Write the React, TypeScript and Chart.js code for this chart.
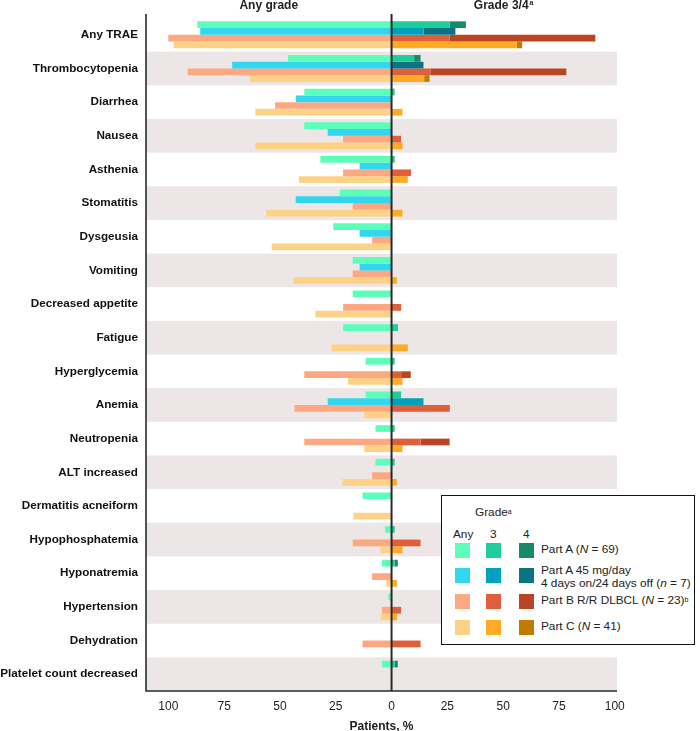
import React, { useEffect, useRef } from "react";
import { Chart, registerables } from "chart.js";

Chart.register(...registerables);

const categories = [
  "Any TRAE", "Thrombocytopenia", "Diarrhea", "Nausea", "Asthenia", "Stomatitis",
  "Dysgeusia", "Vomiting", "Decreased appetite", "Fatigue", "Hyperglycemia", "Anemia",
  "Neutropenia", "ALT increased", "Dermatitis acneiform", "Hypophosphatemia",
  "Hyponatremia", "Hypertension", "Dehydration", "Platelet count decreased",
];

const partAAny = [87.0, 46.4, 39.1, 39.1, 31.9, 23.2, 26.1, 17.4, 17.4, 21.7, 11.6, 11.6, 7.2, 7.2, 13.0, 2.9, 4.3, 1.4, 0, 4.3];
const partAG3 = [26.1, 10.1, 1.4, 0, 1.4, 0, 0, 0, 0, 2.9, 1.4, 4.3, 1.4, 1.4, 0, 1.4, 1.4, 0, 0, 1.4];
const partAG4 = [7.2, 2.9, 0, 0, 0, 0, 0, 0, 0, 0, 0, 0, 0, 0, 0, 0, 1.4, 0, 0, 1.4];

const partA45Any = [85.7, 71.4, 42.9, 28.6, 14.3, 42.9, 14.3, 14.3, 0, 0, 0, 28.6, 0, 0, 0, 0, 0, 0, 0, 0];
const partA45G3 = [14.3, 0, 0, 0, 0, 0, 0, 0, 0, 0, 0, 14.3, 0, 0, 0, 0, 0, 0, 0, 0];
const partA45G4 = [14.3, 14.3, 0, 0, 0, 0, 0, 0, 0, 0, 0, 0, 0, 0, 0, 0, 0, 0, 0, 0];

const partBAny = [100, 91.3, 52.2, 21.7, 21.7, 17.4, 8.7, 17.4, 21.7, 0, 39.1, 43.5, 39.1, 8.7, 0, 17.4, 8.7, 4.3, 13.0, 0];
const partBG3 = [26.1, 17.4, 0, 4.3, 8.7, 0, 0, 0, 4.3, 0, 4.3, 26.1, 13.0, 0, 0, 13.0, 0, 4.3, 13.0, 0];
const partBG4 = [65.2, 60.9, 0, 0, 0, 0, 0, 0, 0, 0, 4.3, 0, 13.0, 0, 0, 0, 0, 0, 0, 0];

const partCAny = [97.6, 63.4, 61.0, 61.0, 41.5, 56.1, 53.7, 43.9, 34.1, 26.8, 19.5, 12.2, 12.2, 22.0, 17.1, 4.9, 2.4, 4.9, 0, 0];
const partCG3 = [56.1, 14.6, 4.9, 4.9, 7.3, 4.9, 0, 2.4, 0, 7.3, 4.9, 0, 4.9, 2.4, 0, 4.9, 2.4, 2.4, 0, 0];
const partCG4 = [2.4, 2.4, 0, 0, 0, 0, 0, 0, 0, 0, 0, 0, 0, 0, 0, 0, 0, 0, 0, 0];

const xTickValues = [-100, -75, -50, -25, 0, 25, 50, 75, 100];

const FONT = '"Liberation Sans", Arial, Helvetica, sans-serif';

const groups = [
  { key: "A", any: partAAny, g3: partAG3, g4: partAG4, colors: ["#5CFFB9", "#1DCD9B", "#168A69"] },
  { key: "A45", any: partA45Any, g3: partA45G3, g4: partA45G4, colors: ["#33D6EF", "#00A1BC", "#0C7384"] },
  { key: "B", any: partBAny, g3: partBG3, g4: partBG4, colors: ["#FDA880", "#E05F3B", "#BB4425"] },
  { key: "C", any: partCAny, g3: partCG3, g4: partCG4, colors: ["#FED286", "#FEAA25", "#C17B03"] },
];

const legendRows = [
  { colors: groups[0].colors, lines: [["Part A (", ["N"], " = 69)"]] },
  { colors: groups[1].colors, lines: [["Part A 45 mg/day"], ["4 days on/24 days off (", ["n"], " = 7)"]] },
  { colors: groups[2].colors, lines: [["Part B R/R DLBCL (", ["N"], " = 23)", ["b", "sup"]]] },
  { colors: groups[3].colors, lines: [["Part C (", ["N"], " = 41)"]] },
];

const bandsPlugin = {
  id: "bands",
  beforeDatasetsDraw(chart: any) {
    const { ctx, chartArea, scales } = chart;
    const y = scales.y;
    const h = (chartArea.bottom - chartArea.top) / categories.length;
    ctx.save();
    ctx.fillStyle = "#ECE6E6";
    categories.forEach((_, i) => {
      if (i % 2 === 1) {
        const c = y.getPixelForValue(i);
        ctx.fillRect(chartArea.left, c - h / 2, chartArea.right - chartArea.left, h);
      }
    });
    ctx.restore();
  },
  afterDatasetsDraw(chart: any) {
    const { ctx, chartArea, scales } = chart;
    const x0 = scales.x.getPixelForValue(0);
    ctx.save();
    ctx.strokeStyle = "#2a2a2a";
    ctx.lineWidth = 2;
    ctx.beginPath();
    ctx.moveTo(x0, chartArea.top - 4);
    ctx.lineTo(x0, chartArea.bottom);
    ctx.stroke();
    ctx.lineWidth = 1.6;
    ctx.beginPath();
    ctx.moveTo(chartArea.left, chartArea.top - 4);
    ctx.lineTo(chartArea.left, chartArea.bottom);
    ctx.lineTo(chartArea.right, chartArea.bottom);
    ctx.stroke();
    // headers
    ctx.fillStyle = "#222";
    ctx.font = `bold 12px ${FONT}`;
    ctx.textAlign = "center";
    ctx.textBaseline = "middle";
    ctx.fillText("Any grade", scales.x.getPixelForValue(-55), 6);
    const gx = scales.x.getPixelForValue(50);
    const t = "Grade 3/4";
    const w = ctx.measureText(t).width;
    ctx.font = `bold 7px ${FONT}`;
    const wa = ctx.measureText("a").width;
    ctx.font = `bold 12px ${FONT}`;
    ctx.textAlign = "left";
    const sx = gx - (w + wa) / 2;
    ctx.fillText(t, sx, 6);
    ctx.font = `bold 7px ${FONT}`;
    ctx.fillText("a", sx + w + 1, 3);
    ctx.restore();
  },
};

function LegendText({ parts }: { parts: any[] }) {
  return (
    <span>
      {parts.map((p, i) => {
        if (typeof p === "string") return <span key={i}>{p}</span>;
        if (p[1] === "sup") return <sup key={i} style={{ fontSize: 7, verticalAlign: "top", position: "relative", top: -1 }}>{p[0]}</sup>;
        return <i key={i}>{p[0]}</i>;
      })}
    </span>
  );
}

export default function App() {
  const canvasRef = useRef<HTMLCanvasElement | null>(null);

  useEffect(() => {
    document.body.style.margin = "0";
    const datasets: any[] = [];
    groups.forEach((g) => {
      datasets.push({ label: g.key + " any", data: g.any.map((v) => -v), backgroundColor: g.colors[0], stack: g.key });
      datasets.push({ label: g.key + " g3", data: g.g3, backgroundColor: g.colors[1], stack: g.key });
      datasets.push({ label: g.key + " g4", data: g.g4, backgroundColor: g.colors[2], stack: g.key });
    });
    const chart = new Chart(canvasRef.current!, {
      type: "bar",
      data: { labels: categories, datasets },
      options: {
        indexAxis: "y",
        animation: false,
        responsive: false,
        maintainAspectRatio: false,
        layout: { padding: { top: 18, right: 83, bottom: 0, left: 0 } },
        datasets: { bar: { categoryPercentage: 0.8, barPercentage: 1.0, borderWidth: 0 } },
        plugins: { legend: { display: false }, tooltip: { enabled: false }, title: { display: false } },
        scales: {
          x: {
            stacked: true,
            min: -110,
            max: 101,
            grid: { display: false, drawTicks: false },
            border: { display: false },
            afterBuildTicks: (scale: any) => {
              scale.ticks = xTickValues.map((v) => ({ value: v }));
            },
            afterFit: (scale: any) => {
              scale.height = 40;
            },
            ticks: {
              autoSkip: false,
              maxRotation: 0,
              padding: 8,
              color: "#222",
              font: { family: FONT, size: 12 },
              callback: (v: any) => String(Math.abs(Number(v))),
            },
            title: {
              display: true,
              text: "Patients, %",
              color: "#222",
              font: { family: FONT, size: 12, weight: "bold" },
              padding: { top: 0, bottom: -3 },
            },
          },
          y: {
            grid: { display: false, drawTicks: false },
            border: { display: false },
            afterFit: (scale: any) => {
              scale.width = 146;
            },
            ticks: {
              autoSkip: false,
              padding: 8,
              color: "#111",
              font: { family: FONT, size: 11.7, weight: "bold" },
            },
          },
        },
      },
      plugins: [bandsPlugin],
    });
    return () => chart.destroy();
  }, []);

  const colX = [13, 44, 77];
  const rowY = [47, 72, 98, 124];
  const textY = [[54], [75, 88], [105], [131]];

  return (
    <div style={{ position: "relative", width: 700, height: 731, fontFamily: FONT }}>
      <canvas ref={canvasRef} width={700} height={731} style={{ display: "block" }} />
      <div
        style={{
          position: "absolute",
          left: 441,
          top: 495,
          width: 252,
          height: 148,
          border: "1.5px solid #111",
          background: "#fff",
          fontSize: 11.8,
          color: "#222",
          lineHeight: "13px",
        }}
      >
        <div style={{ position: "absolute", left: 33, top: 10, whiteSpace: "nowrap" }}>
          Grade<sup style={{ fontSize: 7, verticalAlign: "top", position: "relative", top: -1 }}>a</sup>
        </div>
        <div style={{ position: "absolute", left: 11, top: 32 }}>Any</div>
        <div style={{ position: "absolute", left: 48, top: 32 }}>3</div>
        <div style={{ position: "absolute", left: 81, top: 32 }}>4</div>
        {legendRows.map((r, ri) => (
          <React.Fragment key={ri}>
            {r.colors.map((c, ci) => (
              <div
                key={ci}
                style={{ position: "absolute", left: colX[ci], top: rowY[ri], width: 15, height: 15, background: c }}
              />
            ))}
            {r.lines.map((ln, li) => (
              <div
                key={li}
                style={{ position: "absolute", left: 99, top: textY[ri][li] - 7, whiteSpace: "nowrap" }}
              >
                <LegendText parts={ln} />
              </div>
            ))}
          </React.Fragment>
        ))}
      </div>
    </div>
  );
}
